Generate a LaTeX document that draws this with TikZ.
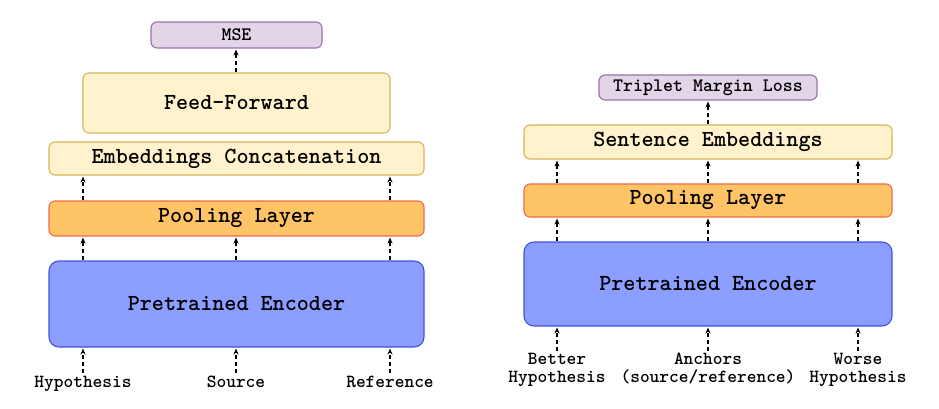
\documentclass[tikz,border=0pt]{standalone}
\usepackage{fontspec}
\usetikzlibrary{arrows.meta}

\definecolor{lossfill}{HTML}{E1D5E7}
\definecolor{lossline}{HTML}{9673A6}
\definecolor{embfill}{HTML}{FFF2CC}
\definecolor{embline}{HTML}{D6B656}
\definecolor{poolfill}{HTML}{FFC466}
\definecolor{poolline}{HTML}{EE6A4C}
\definecolor{encfill}{HTML}{8C9EFF}
\definecolor{encline}{HTML}{3F55D9}

\begin{document}
\begin{tikzpicture}[x=1pt,y=-1pt,
    block/.style={draw, line width=1.1pt, rounded corners=6pt, inner sep=0pt,
      font=\ttfamily\bfseries\fontsize{23}{26}\selectfont},
    loss/.style={block, fill=lossfill, draw=lossline,
      font=\ttfamily\bfseries\fontsize{19}{22}\selectfont},
    emb/.style={block, fill=embfill, draw=embline},
    pool/.style={block, fill=poolfill, draw=poolline},
    enc/.style={block, fill=encfill, draw=encline, rounded corners=10pt},
    input/.style={anchor=north, align=center, inner sep=1pt,
      font=\ttfamily\bfseries\fontsize{18.5}{17.5}\selectfont},
    flow/.style={-{Stealth[length=6pt,width=5pt]}, dash pattern=on 4pt off 3pt,
      line width=1.3pt, shorten >=1pt}]
  \useasboundingbox (0,0) rectangle (939,409);

  % left: regression model
  \node[loss, minimum width=171pt, minimum height=26pt] (mse) at (236.5,35) {MSE};
  \node[emb, minimum width=307pt, minimum height=60pt] (ff) at (236.5,103) {Feed-Forward};
  \node[emb, minimum width=375pt, minimum height=33pt] (concat) at (236.5,158.5) {Embeddings Concatenation};
  \node[pool, minimum width=375pt, minimum height=35pt] (lpool) at (236.5,218.5) {Pooling Layer};
  \node[enc, minimum width=375pt, minimum height=86pt] (lenc) at (236.5,304) {Pretrained Encoder};

  \node[input] (hyp) at (83,375) {Hypothesis};
  \node[input] (src) at (236,375) {Source};
  \node[input] (ref) at (390,375) {Reference};

  \foreach \s in {hyp,src,ref} {
    \draw[flow, shorten <=2pt] (\s.north) -- (lenc.south -| \s);
    \draw[flow] (lenc.north -| \s) -- (lpool.south -| \s);
  }
  \foreach \s in {hyp,ref}
    \draw[flow] (lpool.north -| \s) -- (concat.south -| \s);
  \draw[flow] (ff.north -| src) -- (mse.south -| src);

  % right: ranking model
  \node[loss, minimum width=218pt, minimum height=25pt] (triplet) at (708,87.5) {Triplet Margin Loss};
  \node[emb, minimum width=368pt, minimum height=34pt] (sent) at (708,142) {Sentence Embeddings};
  \node[pool, minimum width=368pt, minimum height=33pt] (rpool) at (708,200.5) {Pooling Layer};
  \node[enc, minimum width=368pt, minimum height=84pt] (renc) at (708,284) {Pretrained Encoder};

  \node[input] (better) at (557,352) {Better\\Hypothesis};
  \node[input] (anchors) at (708,352) {Anchors\\(source/reference)};
  \node[input] (worse) at (858,352) {Worse\\Hypothesis};

  \foreach \s in {better,anchors,worse} {
    \draw[flow, shorten <=1pt] (\s.north) -- (renc.south -| \s);
    \draw[flow] (renc.north -| \s) -- (rpool.south -| \s);
    \draw[flow] (rpool.north -| \s) -- (sent.south -| \s);
  }
  \draw[flow] (sent.north -| anchors) -- (triplet.south -| anchors);
\end{tikzpicture}
\end{document}
